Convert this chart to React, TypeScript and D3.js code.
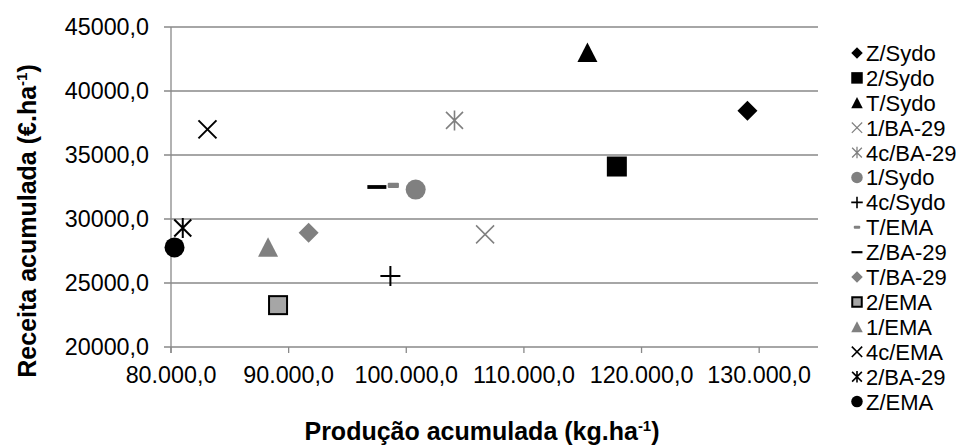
import React from "react";
import * as d3 from "d3";

// Series (treatment / variety) in legend order
const seriesNames = [
  "Z/Sydo", "2/Sydo", "T/Sydo", "1/BA-29", "4c/BA-29", "1/Sydo", "4c/Sydo",
  "T/EMA", "Z/BA-29", "T/BA-29", "2/EMA", "1/EMA", "4c/EMA", "2/BA-29", "Z/EMA",
];
// Produção acumulada (kg.ha-1)
const producao = [
  129000, 117900, 115400, 106700, 104100, 100800, 98650,
  98900, 97500, 91700, 89100, 88250, 83100, 81000, 80300,
];
// Receita acumulada (€.ha-1)
const receita = [
  38450, 34100, 43000, 28800, 37700, 32300, 25550,
  32620, 32500, 28930, 23270, 27800, 37000, 29300, 27780,
];

const xTicks = [80000, 90000, 100000, 110000, 120000, 130000];
const yTicks = [20000, 25000, 30000, 35000, 40000, 45000];

type Shape = "diamond" | "square" | "triangle" | "x" | "star" | "plus" | "circle" | "dashS" | "dashL";
interface MarkerStyle { shape: Shape; fill: string; stroke: string; sw: number; }

const BLACK = "#000000";
const GREY = "#808080";
const markerStyles: MarkerStyle[] = [
  { shape: "diamond", fill: BLACK, stroke: "none", sw: 0 },
  { shape: "square", fill: BLACK, stroke: "none", sw: 0 },
  { shape: "triangle", fill: BLACK, stroke: "none", sw: 0 },
  { shape: "x", fill: "none", stroke: GREY, sw: 1.5 },
  { shape: "star", fill: "none", stroke: GREY, sw: 1.6 },
  { shape: "circle", fill: GREY, stroke: "none", sw: 0 },
  { shape: "plus", fill: "none", stroke: BLACK, sw: 2 },
  { shape: "dashS", fill: GREY, stroke: "none", sw: 0 },
  { shape: "dashL", fill: BLACK, stroke: "none", sw: 0 },
  { shape: "diamond", fill: GREY, stroke: "none", sw: 0 },
  { shape: "square", fill: "#a6a6a6", stroke: BLACK, sw: 2 },
  { shape: "triangle", fill: GREY, stroke: "none", sw: 0 },
  { shape: "x", fill: "none", stroke: BLACK, sw: 2 },
  { shape: "star", fill: "none", stroke: BLACK, sw: 2 },
  { shape: "circle", fill: BLACK, stroke: "none", sw: 0 },
];

const W = 956;
const H = 448;
const plot = { left: 171, right: 818, top: 27, bottom: 347 };
const GRID = "#898989";
const FONT = "'Liberation Sans', Arial, sans-serif";

const x = d3.scaleLinear().domain([80000, 135000]).range([plot.left, plot.right]);
const y = d3.scaleLinear().domain([20000, 45000]).range([plot.bottom, plot.top]);

const fmtY = (v: number) => d3.format(".1f")(v).replace(".", ",");
const fmtX = (v: number) => d3.format(",.1f")(v).replace(/,/g, "#").replace(".", ",").replace(/#/g, ".");

function Marker({ st, s }: { st: MarkerStyle; s: number }) {
  const h = s / 2;
  const sw = st.sw * (s < 20 ? 0.8 : 1);
  switch (st.shape) {
    case "diamond":
      return <path d={`M0,${-h}L${h},0L0,${h}L${-h},0Z`} fill={st.fill} />;
    case "square": {
      const inset = st.sw / 2;
      return (
        <rect x={-h + inset} y={-h + inset} width={s - st.sw} height={s - st.sw}
          fill={st.fill} stroke={st.stroke} strokeWidth={st.sw} />
      );
    }
    case "triangle":
      return <path d={`M0,${-h}L${h},${h * 0.95}L${-h},${h * 0.95}Z`} fill={st.fill} />;
    case "circle":
      return <circle r={h} fill={st.fill} />;
    case "x": {
      const r = h * 0.9;
      return (
        <path d={`M${-r},${-r}L${r},${r}M${-r},${r}L${r},${-r}`} stroke={st.stroke}
          strokeWidth={sw} fill="none" />
      );
    }
    case "star": {
      const r = h * 0.85;
      return (
        <path d={`M${-r},${-r}L${r},${r}M${-r},${r}L${r},${-r}M0,${-h}L0,${h}`} stroke={st.stroke}
          strokeWidth={sw} fill="none" />
      );
    }
    case "plus":
      return (
        <path d={`M${-h},0L${h},0M0,${-h}L0,${h}`} stroke={st.stroke} strokeWidth={sw} fill="none" />
      );
    case "dashS": {
      const w = s * 0.56, t = s * 0.26;
      return <rect x={-w / 2} y={-t / 2} width={w} height={t} rx={1} fill={st.fill} />;
    }
    case "dashL": {
      const w = s * 0.95, t = s * 0.19;
      return <rect x={-w / 2} y={-t / 2} width={w} height={t} fill={st.fill} />;
    }
  }
  return null;
}

export default function App() {
  const legendX = 857;
  const legendY0 = 53;
  const legendStep = 24.9;

  return (
    <svg width={W} height={H} style={{ position: "absolute", left: 0, top: 0, background: "#fff" }}
      fontFamily={FONT}>
      <rect width={W} height={H} fill="#ffffff" />

      {/* horizontal gridlines and y ticks */}
      {yTicks.map((t) => (
        <g key={`gy${t}`}>
          <line x1={plot.left - 7} x2={plot.right} y1={y(t)} y2={y(t)} stroke={GRID} strokeWidth={1.3} />
          <text x={149} y={y(t)} dy="0.36em" textAnchor="end" fontSize={23.3} fill="#000">
            {fmtY(t)}
          </text>
        </g>
      ))}

      {/* y axis line */}
      <line x1={plot.left} x2={plot.left} y1={plot.top} y2={plot.bottom + 6} stroke={GRID} strokeWidth={1.3} />

      {/* x ticks and labels */}
      {xTicks.map((t) => (
        <g key={`gx${t}`}>
          <line x1={x(t)} x2={x(t)} y1={plot.bottom} y2={plot.bottom + 6} stroke={GRID} strokeWidth={1.3} />
          <text x={x(t)} y={383} textAnchor="middle" fontSize={23.3} fill="#000">
            {fmtX(t)}
          </text>
        </g>
      ))}

      {/* axis titles */}
      <text x={482} y={440} textAnchor="middle" fontSize={25} fontWeight="bold" fill="#000">
        Produção acumulada (kg.ha<tspan dy={-9} fontSize={15}>-1</tspan><tspan dy={9}>)</tspan>
      </text>
      <text transform={`translate(36,221) rotate(-90)`} textAnchor="middle" fontSize={25}
        fontWeight="bold" fill="#000">
        Receita acumulada (€.ha<tspan dy={-9} fontSize={15}>-1</tspan><tspan dy={9}>)</tspan>
      </text>

      {/* data points */}
      {seriesNames.map((name, i) => (
        <g key={`p${name}`} transform={`translate(${x(producao[i])},${y(receita[i])})`}>
          <Marker st={markerStyles[i]} s={20} />
        </g>
      ))}

      {/* legend */}
      {seriesNames.map((name, i) => (
        <g key={`l${name}`} transform={`translate(${legendX},${legendY0 + i * legendStep})`}>
          <Marker st={markerStyles[i]} s={11.5} />
          <text x={9} y={0} dy="0.36em" fontSize={22} fill="#000">{name}</text>
        </g>
      ))}
    </svg>
  );
}
